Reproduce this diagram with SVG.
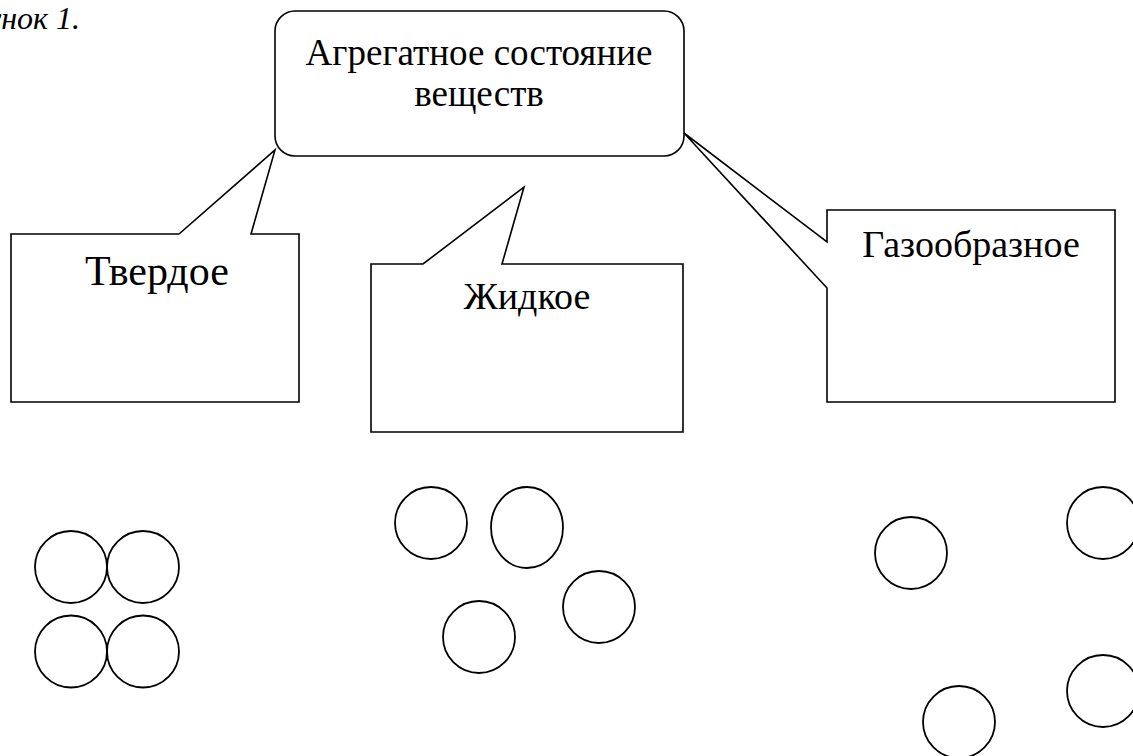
<svg xmlns="http://www.w3.org/2000/svg" width="1133" height="756" viewBox="0 0 1133 756">
<style>
.s{fill:#fff;stroke:#000;stroke-width:1.6;stroke-linejoin:miter}
.c{fill:none;stroke:#000;stroke-width:1.8}
.t{font-family:"Liberation Serif","Times New Roman",serif;fill:#000;text-anchor:middle}
.cap{font-family:"Liberation Serif","Times New Roman",serif;font-style:italic;font-size:32px;fill:#000;text-anchor:end}
</style>
<rect width="1133" height="756" fill="#fff"/>
<text class="cap" x="80" y="29">Рисунок 1.</text>
<g id="connectors"></g>
<g id="root">
<rect class="s" x="275" y="11" width="409" height="145" rx="20" ry="20"/>
<text class="t" x="479" y="65" font-size="37">Агрегатное состояние</text>
<text class="t" x="479" y="106" font-size="37">веществ</text>
</g>
<g id="solid">
<path class="s" d="M11,234 L179,234 L275,150 L251,234 L299,234 L299,402 L11,402 Z"/>
<text class="t" x="157" y="285" font-size="42">Твердое</text>
</g>
<g id="liquid">
<path class="s" d="M371,264 L423,264 L524,187 L502,264 L683,264 L683,432 L371,432 Z"/>
<text class="t" x="527" y="309" font-size="38">Жидкое</text>
</g>
<g id="gas">
<path class="s" d="M827,210 L1115,210 L1115,402 L827,402 L827,288 L684,133 L827,242 Z"/>
<text class="t" x="971" y="257" font-size="38">Газообразное</text>
</g>
<g id="solid-particles">
<circle class="c" cx="71" cy="567" r="36"/>
<circle class="c" cx="143" cy="567" r="36"/>
<circle class="c" cx="71" cy="651.5" r="36"/>
<circle class="c" cx="143" cy="651.5" r="36"/>
</g>
<g id="liquid-particles">
<circle class="c" cx="431" cy="523" r="36"/>
<ellipse class="c" cx="527" cy="527.5" rx="36" ry="40.5"/>
<circle class="c" cx="599" cy="607" r="36"/>
<circle class="c" cx="479" cy="637" r="36"/>
</g>
<g id="gas-particles">
<circle class="c" cx="911" cy="553" r="36"/>
<circle class="c" cx="1103" cy="523" r="36"/>
<circle class="c" cx="959" cy="722" r="36"/>
<circle class="c" cx="1103" cy="691" r="36"/>
</g>
</svg>
